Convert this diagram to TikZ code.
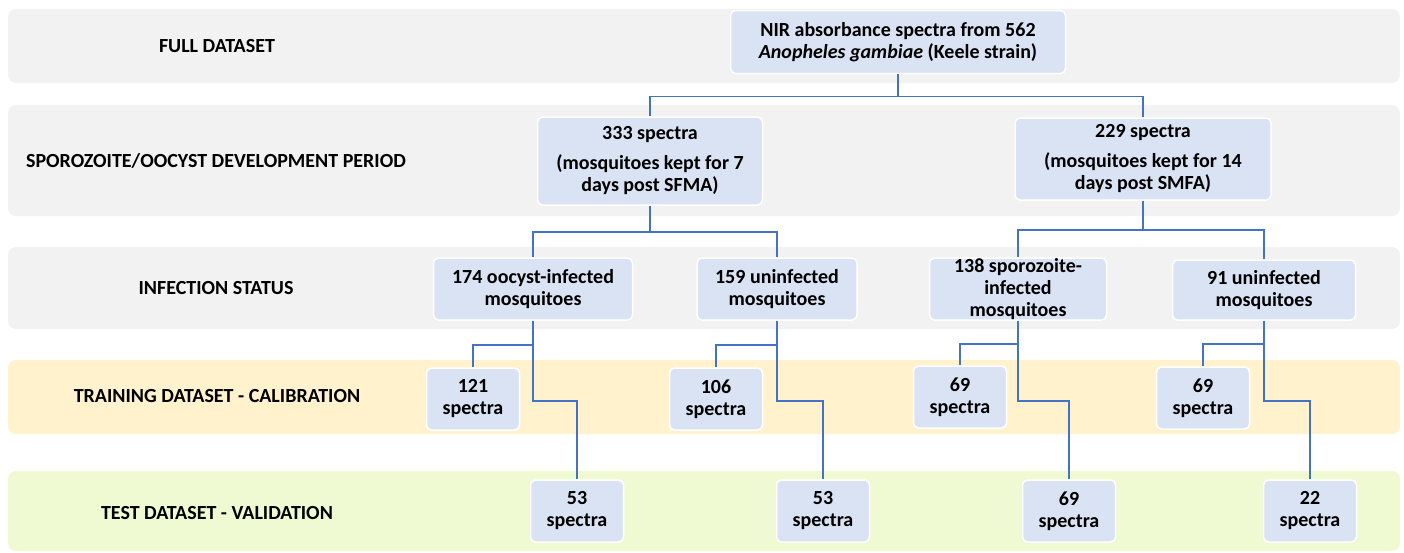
\documentclass[tikz,border=0pt]{standalone}
\usepackage{fontspec}
\setmainfont{Carlito}
\usetikzlibrary{positioning}
\definecolor{cnode}{HTML}{DAE3F3}
\definecolor{cline}{HTML}{4472C4}
\definecolor{cband}{HTML}{F2F2F2}
\definecolor{ctrain}{HTML}{FFF2CC}
\definecolor{ctest}{HTML}{F0FAD2}
\tikzset{
  every picture/.style={font=\bfseries\fontsize{20}{22}\selectfont},
  box/.style={draw=white, fill=cnode, line width=1.5pt, rounded corners=5pt, align=center, inner sep=2pt},
  spec/.style={box, minimum width=93pt, minimum height=62pt},
  band/.style={fill=#1, rounded corners=8pt},
  band/.default=cband,
  link/.style={draw=cline, line width=1.5pt},
}

\begin{document}
\begin{tikzpicture}[x=1pt, y=-1pt]
  \useasboundingbox (0,0) rectangle (1404,552);
  % bands
  \fill[band] (8,9) rectangle (1400,83);
  \fill[band] (8,105) rectangle (1400,216);
  \fill[band] (8,247) rectangle (1400,329);
  \fill[band=ctrain] (8,360) rectangle (1400,434);
  \fill[band=ctest] (8,471) rectangle (1400,551);
  \node (lfull) at (217,46) {FULL DATASET};
  \node (lperiod) at (216,161) {SPOROZOITE/OOCYST DEVELOPMENT PERIOD};
  \node (lstatus) at (216,288) {INFECTION STATUS};
  \node (ltrain) at (217,396) {TRAINING DATASET - CALIBRATION};
  \node (ltest) at (217,513) {TEST DATASET - VALIDATION};
  % tree
  \node[box, minimum width=335pt, minimum height=63pt] (full) at (898,42) {NIR absorbance spectra from 562\\\textit{Anopheles gambiae} (Keele strain)};
  \node[box, minimum width=225pt, minimum height=88pt] (d7) at (650,161) {333 spectra\\[8pt](mosquitoes kept for 7\\days post SFMA)};
  \node[box, minimum width=256pt, minimum height=82pt] (d14) at (1143,159) {229 spectra\\[8pt](mosquitoes kept for 14\\days post SMFA)};
  \node[box, minimum width=199pt, minimum height=62pt] (oo) at (533,289) {174 oocyst-infected\\mosquitoes};
  \node[box, minimum width=160pt, minimum height=62pt] (un7) at (777,289) {159 uninfected\\mosquitoes};
  \node[box, minimum width=177pt, minimum height=62pt, inner ysep=0pt] (sp) at (1018,289) {138 sporozoite-\\infected\\mosquitoes};
  \node[box, minimum width=183pt, minimum height=60pt] (un14) at (1264,290) {91 uninfected\\mosquitoes};
  \node[spec] (t121) at (473,399) {121\\spectra};
  \node[spec] (t106) at (716,399) {106\\spectra};
  \node[spec] (t69a) at (960,397) {69\\spectra};
  \node[spec] (t69b) at (1203,398) {69\\spectra};
  \node[spec] (v53a) at (577,511) {53\\spectra};
  \node[spec] (v53b) at (823,511) {53\\spectra};
  \node[spec] (v69) at (1069,511) {69\\spectra};
  \node[spec] (v22) at (1310,511) {22\\spectra};
  \foreach \p/\c/\d in {full/d7/22, full/d14/22, d7/oo/26, d7/un7/26, d14/sp/29, d14/un14/29,
      oo/t121/24, un7/t106/24, sp/t69a/23, un14/t69b/23,
      oo/v53a/80, un7/v53b/80, sp/v69/80, un14/v22/80}
    \draw[link] (\p.south) -- ++(0,\d) -| (\c.north);
\end{tikzpicture}
\end{document}
